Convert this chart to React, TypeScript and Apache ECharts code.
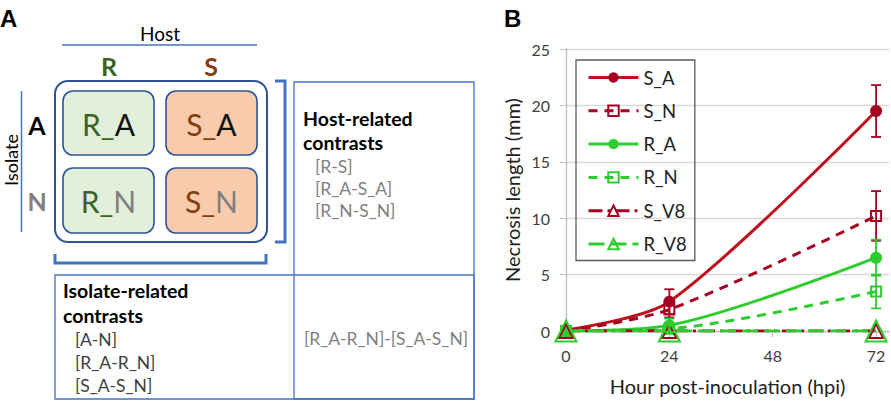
import React, { useEffect, useRef } from "react";
import * as echarts from "echarts";

const hours = [0, 24, 72];
const xTicks = [0, 24, 48, 72];
const seriesNames = ["S_A", "S_N", "R_A", "R_N", "S_V8", "R_V8"];
const sA = [0.1, 2.6, 19.5];
const sAerr = [0, 1.1, 2.3];
const sN = [0, 1.9, 10.2];
const sNerr = [0, 0.7, 2.2];
const rA = [0, 0.5, 6.5];
const rAerr = [0, 0.6, 1.6];
const rN = [0, 0.2, 3.5];
const rNerr = [0, 0.3, 1.5];
const sV8 = [0, 0, 0];
const rV8 = [0, 0, 0];

const RED = "#A50021";
const RED_LINE = "#C0101E";
const GREEN = "#2ECC2E";
const BLUE = "#4472C4";
const DBLUE = "#2F5597";
const FONT = "Lato";

const pts = (ys: number[]) => hours.map((h, i) => [h, ys[i]]);
const errs = (ys: number[], es: number[]) =>
  hours.map((h, i) => [h, ys[i] - es[i], ys[i] + es[i]]).filter((d, i) => es[i] > 0);

function errSeries(data: number[][], color: string) {
  return {
    type: "custom",
    z: 5,
    data,
    encode: { x: 0, y: [1, 2] },
    renderItem: (params: any, api: any) => {
      const x = api.value(0);
      const lo = api.coord([x, api.value(1)]);
      const hi = api.coord([x, api.value(2)]);
      const w = 5;
      const st = { stroke: color, lineWidth: 1.8 };
      return {
        type: "group",
        children: [
          { type: "line", shape: { x1: lo[0], y1: lo[1], x2: hi[0], y2: hi[1] }, style: st },
          { type: "line", shape: { x1: lo[0] - w, y1: lo[1], x2: lo[0] + w, y2: lo[1] }, style: st },
          { type: "line", shape: { x1: hi[0] - w, y1: hi[1], x2: hi[0] + w, y2: hi[1] }, style: st },
        ],
      };
    },
  };
}

const txt = (x: number, y: number, text: string, extra: any = {}) => ({
  type: "text",
  x,
  y,
  style: {
    text,
    fontFamily: FONT,
    fontSize: 19,
    fill: "#000",
    align: "left",
    verticalAlign: "middle",
    ...extra,
  },
});

const CS = 30;
const cellRich = {
  g: { fill: "#3B6323", fontSize: CS, fontFamily: FONT },
  b: { fill: "#843C0C", fontSize: CS, fontFamily: FONT },
  k: { fill: "#111", fontSize: CS, fontFamily: FONT },
  n: { fill: "#808080", fontSize: CS, fontFamily: FONT },
};

export default function App() {
  const ref = useRef<HTMLDivElement>(null);
  useEffect(() => {
    const chart = echarts.init(ref.current!, null, { renderer: "svg" });
    const graphic: any[] = [
      txt(0, 18, "A", { fontFamily: "Liberation Sans", fontWeight: "bold", fontSize: 24 }),
      txt(504, 18, "B", { fontFamily: "Liberation Sans", fontWeight: "bold", fontSize: 24 }),
      txt(160, 33, "Host", { align: "center" }),
      { type: "line", shape: { x1: 62, y1: 45, x2: 257, y2: 45 }, style: { stroke: BLUE, lineWidth: 1.5 } },
      txt(109, 66, "R", { align: "center", fontWeight: "bold", fontSize: 25, fill: "#3B6323" }),
      txt(211, 66, "S", { align: "center", fontWeight: "bold", fontSize: 25, fill: "#843C0C" }),
      { type: "rect", shape: { x: 55, y: 81, width: 212, height: 161, r: 13 }, style: { fill: "none", stroke: DBLUE, lineWidth: 2 } },
      { type: "rect", shape: { x: 63, y: 91, width: 91, height: 64, r: 10 }, style: { fill: "#E2EFDA", stroke: DBLUE, lineWidth: 1.6 } },
      { type: "rect", shape: { x: 166, y: 91, width: 91, height: 64, r: 10 }, style: { fill: "#F8CBAD", stroke: DBLUE, lineWidth: 1.6 } },
      { type: "rect", shape: { x: 63, y: 168, width: 91, height: 65, r: 10 }, style: { fill: "#E2EFDA", stroke: DBLUE, lineWidth: 1.6 } },
      { type: "rect", shape: { x: 166, y: 168, width: 91, height: 65, r: 10 }, style: { fill: "#F8CBAD", stroke: DBLUE, lineWidth: 1.6 } },
      txt(108.5, 124, "{g|R_}{k|A}", { align: "center", rich: cellRich }),
      txt(211.5, 124, "{b|S_}{k|A}", { align: "center", rich: cellRich }),
      txt(108.5, 201, "{g|R_}{n|N}", { align: "center", rich: cellRich }),
      txt(211.5, 201, "{b|S_}{n|N}", { align: "center", rich: cellRich }),
      txt(37, 125, "A", { align: "center", fontWeight: "bold", fontSize: 25 }),
      txt(37, 201, "N", { align: "center", fontWeight: "bold", fontSize: 25, fill: "#808080" }),
      { type: "line", shape: { x1: 21.5, y1: 91, x2: 21.5, y2: 232 }, style: { stroke: BLUE, lineWidth: 1.5 } },
      { type: "text", x: 11, y: 160, rotation: Math.PI / 2, style: { text: "Isolate", fontFamily: FONT, fontSize: 18, fill: "#000", align: "center", verticalAlign: "middle" } },
      { type: "polyline", shape: { points: [[275, 81], [285, 81], [285, 242], [275, 242]] }, style: { stroke: BLUE, lineWidth: 3, fill: "none" } },
      { type: "polyline", shape: { points: [[55, 254], [55, 263], [266, 263], [266, 254]] }, style: { stroke: BLUE, lineWidth: 3, fill: "none" } },
      { type: "rect", shape: { x: 294, y: 82, width: 180, height: 317 }, style: { fill: "none", stroke: BLUE, lineWidth: 1.3 } },
      { type: "rect", shape: { x: 55, y: 275, width: 419, height: 124 }, style: { fill: "none", stroke: BLUE, lineWidth: 1.3 } },
      txt(303, 118, "Host-related", { fontWeight: "bold", fontSize: 19.5 }),
      txt(303, 142, "contrasts", { fontWeight: "bold", fontSize: 19.5 }),
      txt(315, 166, "[R-S]", { fontSize: 17.5, fill: "#7F7F7F" }),
      txt(315, 188, "[R_A-S_A]", { fontSize: 17.5, fill: "#7F7F7F" }),
      txt(315, 210, "[R_N-S_N]", { fontSize: 17.5, fill: "#7F7F7F" }),
      txt(63, 290, "Isolate-related", { fontWeight: "bold", fontSize: 19.5 }),
      txt(63, 315, "contrasts", { fontWeight: "bold", fontSize: 19.5 }),
      txt(75, 339, "[A-N]", { fontSize: 17.5, fill: "#404040" }),
      txt(75, 362, "[R_A-R_N]", { fontSize: 17.5, fill: "#404040" }),
      txt(75, 385, "[S_A-S_N]", { fontSize: 17.5, fill: "#404040" }),
      txt(386, 338, "[R_A-R_N]-[S_A-S_N]", { align: "center", fontSize: 17.5, fill: "#7F7F7F" }),
    ];

    const lineS = (
      name: string,
      ys: number[],
      color: string,
      lineColor: string,
      type: any,
      symbol: string,
      size: number,
      filled: boolean,
      smooth: number
    ) => ({
      name,
      type: "line",
      data: pts(ys),
      smooth,
      symbol,
      symbolSize: size,
      z: 3,
      lineStyle: { color: lineColor, width: 3, type },
      itemStyle: filled
        ? { color }
        : { color: "transparent", borderColor: color, borderWidth: 2 },
    });

    chart.setOption({
      animation: false,
      graphic,
      grid: { left: 566, right: 2, top: 49, bottom: 70, containLabel: false },
      legend: {
        data: seriesNames,
        orient: "vertical",
        left: 576,
        top: 60,
        padding: [8, 8, 7, 11],
        itemWidth: 50,
        itemHeight: 13,
        itemGap: 14.3,
        borderColor: "#595959",
        borderWidth: 1.3,
        lineStyle: { width: 3 },
        textStyle: { fontFamily: FONT, fontSize: 18.5, color: "#222", lineHeight: 17 },
      },
      xAxis: {
        type: "value",
        min: 0,
        max: 75,
        interval: 24,
        name: "Hour post-inoculation (hpi)",
        nameLocation: "middle",
        nameGap: 45,
        nameTextStyle: { fontFamily: FONT, fontSize: 20, color: "#222" },
        axisLine: { show: true, lineStyle: { color: "#BFBFBF", width: 1.3 } },
        axisTick: { show: true, length: 6, customValues: xTicks, lineStyle: { color: "#BFBFBF" } },
        axisLabel: {
          customValues: xTicks,
          margin: 16,
          fontFamily: FONT,
          fontSize: 16,
          color: "#404040",
          formatter: (v: number) => (xTicks.includes(v) ? String(v) : ""),
        },
        splitLine: { show: false },
      },
      yAxis: {
        type: "value",
        min: 0,
        max: 25,
        interval: 5,
        name: "Necrosis length (mm)",
        nameLocation: "middle",
        nameGap: 44,
        nameTextStyle: { fontFamily: FONT, fontSize: 20, color: "#222" },
        axisLine: { show: true, lineStyle: { color: "#BFBFBF", width: 1.3 } },
        axisTick: { show: true, length: 6, lineStyle: { color: "#BFBFBF" } },
        axisLabel: { margin: 16, fontFamily: FONT, fontSize: 16, color: "#404040" },
        splitLine: { show: true, lineStyle: { color: "#D9D9D9", width: 1.3 } },
      },
      series: [
        lineS("S_A", sA, RED, RED_LINE, "solid", "circle", 12, true, 0.28),
        lineS("S_N", sN, RED, RED, [9, 7], "rect", 10, false, 0.3),
        lineS("R_A", rA, GREEN, GREEN, "solid", "circle", 12, true, 0.3),
        lineS("R_N", rN, GREEN, GREEN, [9, 7], "rect", 10, false, 0.3),
        lineS("S_V8", sV8, RED, RED, [14, 5, 3, 5], "triangle", 14, false, 0),
        lineS("R_V8", rV8, GREEN, GREEN, [16, 6], "triangle", 21, false, 0),
        errSeries(errs(sA, sAerr), RED),
        errSeries(errs(sN, sNerr), RED),
        errSeries(errs(rA, rAerr), GREEN),
        errSeries(errs(rN, rNerr), GREEN),
      ],
    });
    return () => chart.dispose();
  }, []);
  return (
    <div
      ref={ref}
      style={{ position: "fixed", left: 0, top: 0, width: 891, height: 401, background: "#fff" }}
    />
  );
}
